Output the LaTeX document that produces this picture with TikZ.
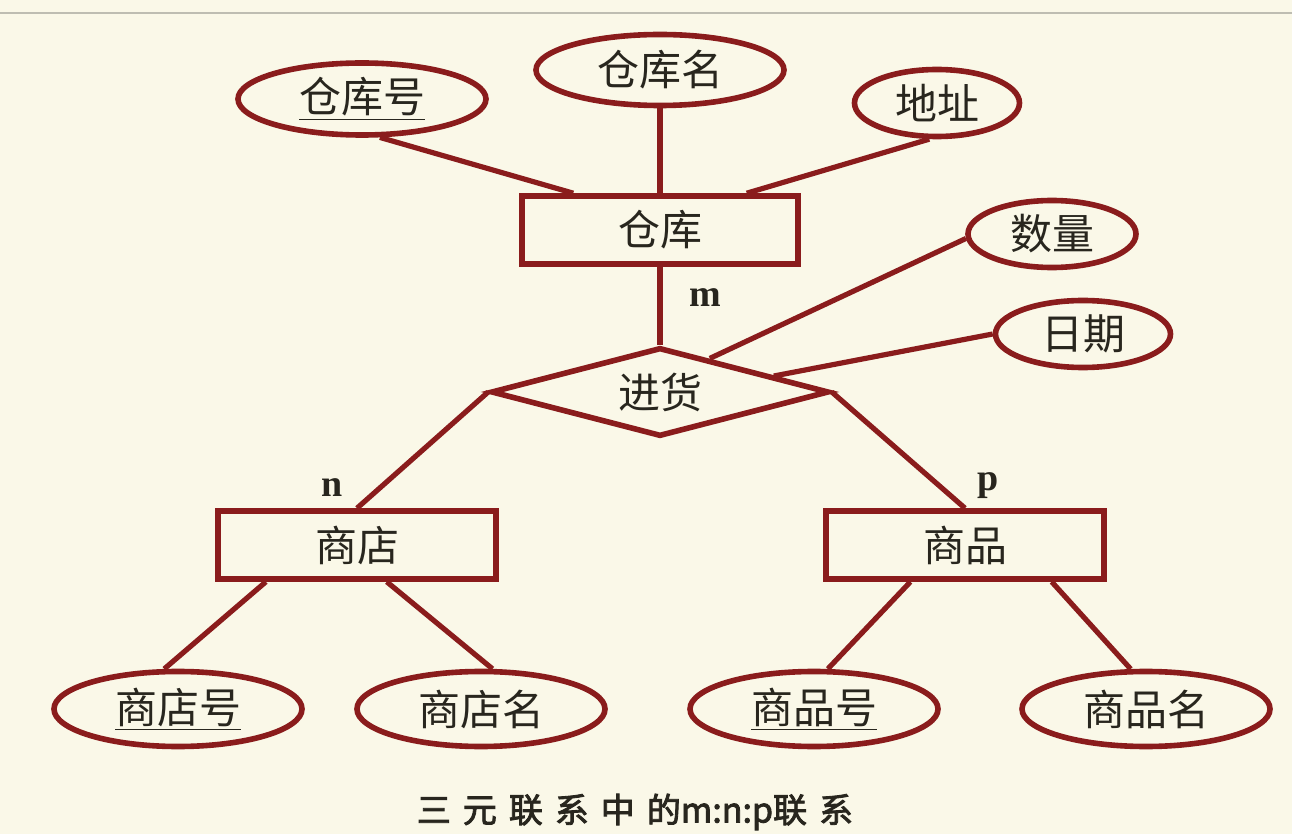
\documentclass[tikz,border=0pt]{standalone}
\usepackage{fontspec}
\setmainfont{Liberation Serif}
\newfontfamily\cjk{Noto Sans CJK SC}[AutoFakeBold=2.5]
\usetikzlibrary{positioning,shapes.geometric,calc}

\definecolor{bg}{RGB}{250,248,232}
\definecolor{erred}{RGB}{138,28,28}
\definecolor{ink}{RGB}{40,38,30}
\newcommand{\cgap}{\hspace{6pt}}

\begin{document}
\begin{tikzpicture}[x=0.5pt,y=-0.5pt,
    every node/.style={font=\cjk\fontsize{21pt}{25pt}\selectfont, text=ink},
    attr/.style={ellipse, draw=erred, line width=2.8pt, fill=bg, inner sep=0pt,
        minimum width=124pt, minimum height=36pt},
    entity/.style={rectangle, draw=erred, line width=2.8pt, fill=bg, inner sep=0pt,
        minimum width=138pt, minimum height=34pt},
    rel/.style={diamond, aspect=3.8, draw=erred, line width=2.8pt, fill=bg, inner sep=0pt,
        minimum width=169pt, minimum height=44.5pt},
    link/.style={draw=erred, line width=2.6pt},
    card/.style={font=\fontsize{19pt}{22pt}\selectfont\bfseries}]

    \useasboundingbox (0,0) rectangle (1292,834);
    \fill[bg] (0,0) rectangle (1292,834);
    \draw[line width=1.4pt, color={rgb,255:red,190;green,189;blue,178}] (0,13) -- (1292,13);

    % entities, relationship, attributes
    \node[attr] (CKh) at (362,99) {\underline{仓库号}};
    \node[attr, minimum height=35.5pt] (CKm) at (660,70) {仓库名};
    \node[attr, minimum width=82.5pt, minimum height=33.5pt] (DZ) at (937,103) {地址};
    \node[entity] (CK) at (660,230) {仓库};

    \node[attr, minimum width=84pt, minimum height=33.5pt] (SL) at (1052,234) {数量};
    \node[attr, minimum width=87.5pt, minimum height=33.5pt] (RQ) at (1083,334) {日期};
    \node[rel] (JH) at (660,392) {进货};

    \node[entity, minimum width=139pt] (SD) at (357,545) {商店};
    \node[entity, minimum width=139pt] (SP) at (965,545) {商品};

    \node[attr, minimum height=37.5pt] (SDh) at (178,709) {\underline{商店号}};
    \node[attr, minimum height=37.5pt] (SDm) at (481,709) {商店名};
    \node[attr, minimum height=37.5pt] (SPh) at (814,709) {\underline{商品号}};
    \node[attr, minimum height=37.5pt] (SPm) at (1146,709) {商品名};

    \draw[link] (CK.157) -- (CKh.-65);
    \draw[link] (CK.north) -- (CKm.south);
    \draw[link] (CK.23) -- (DZ.-102);

    \draw[link] (JH.north) -- (CK.south);
    \draw[link] (JH.34) -- (SL.183);
    \draw[link] (JH.8) -- (RQ.180);
    \draw[link] (JH.west) -- (SD.north);
    \draw[link] (JH.east) -- (SP.north);

    \draw[link] (SD.202.6) -- (SDh.109);
    \draw[link] (SD.-51) -- (SDm.74);
    \draw[link] (SP.214) -- (SPh.71);
    \draw[link] (SP.-23.5) -- (SPm.111);

    \node[card] (m) at (705,298) {m};
    \node[card] (n) at (332,488) {n};
    \node[card] (p) at (988,486) {p};

    \node[font=\cjk\bfseries\fontsize{17pt}{20pt}\selectfont] (cap) at (635,812)
        {三\cgap 元\cgap 联\cgap 系\cgap 中\cgap 的m:n:p联\cgap 系};

\end{tikzpicture}
\end{document}
